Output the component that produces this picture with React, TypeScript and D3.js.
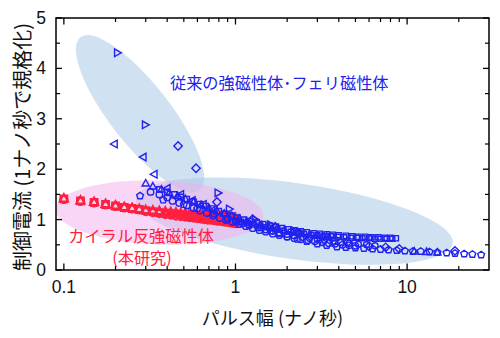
import React from 'react';
import * as d3 from 'd3';

// ---------- data ----------
const xMajorTicks = [0.1, 1, 10];
const xMajorLabels = ['0.1', '1', '10'];
const xMinorTicks = [0.2, 0.3, 0.4, 0.5, 0.6, 0.7, 0.8, 0.9, 2, 3, 4, 5, 6, 7, 8, 9, 20];
const yMajorTicks = [0, 1, 2, 3, 4, 5];
const yMinorTicks = [0.5, 1.5, 2.5, 3.5, 4.5];

// chiral antiferromagnet (this work) - red
const redX = [0.1, 0.125, 0.15, 0.175, 0.2, 0.225, 0.25, 0.275, 0.3, 0.33, 0.36, 0.39, 0.42, 0.45, 0.48, 0.51, 0.54, 0.57, 0.6, 0.63, 0.66, 0.69, 0.72, 0.75, 0.78, 0.81, 0.84, 0.87, 0.9, 0.93, 0.96, 1.0];
const redTriY = [1.42, 1.38, 1.35, 1.31, 1.28, 1.25, 1.23, 1.21, 1.19, 1.18, 1.17, 1.16, 1.15, 1.14, 1.13, 1.12, 1.12, 1.11, 1.10, 1.10, 1.09, 1.09, 1.08, 1.08, 1.07, 1.07, 1.06, 1.06, 1.05, 1.05, 1.04, 1.04];
const redSqY = [1.41, 1.37, 1.34, 1.30, 1.27, 1.24, 1.22, 1.20, 1.18, 1.16, 1.14, 1.13, 1.12, 1.11, 1.10, 1.09, 1.08, 1.07, 1.06, 1.05, 1.05, 1.04, 1.03, 1.02, 1.02, 1.01, 1.00, 0.99, 0.99, 0.98, 0.97, 0.96];
const redCircY = [1.40, 1.36, 1.33, 1.29, 1.26, 1.23, 1.21, 1.19, 1.16, 1.14, 1.12, 1.10, 1.09, 1.07, 1.06, 1.05, 1.04, 1.03, 1.02, 1.01, 1.00, 0.99, 0.99, 0.98, 0.97, 0.97, 0.96, 0.95, 0.95, 0.94, 0.93, 0.92];
const red2X = [0.405, 0.435, 0.465, 0.495, 0.525, 0.555, 0.585, 0.615, 0.645, 0.675, 0.705, 0.735, 0.765, 0.795, 0.825, 0.855, 0.885, 0.915, 0.945, 0.975];
const red2Y = [1.12, 1.11, 1.10, 1.08, 1.07, 1.06, 1.05, 1.05, 1.04, 1.03, 1.02, 1.01, 1.01, 1.00, 0.99, 0.98, 0.98, 0.97, 0.96, 0.95];

// conventional ferro / ferri magnets - blue
const blueSqX = [0.36, 0.4, 0.44, 0.48, 0.52, 0.57, 0.62, 0.67, 0.73, 0.8, 0.87, 0.95, 1.03, 1.12, 1.22, 1.33, 1.45, 1.58, 1.72, 1.87, 2.03, 2.2, 2.4, 2.6, 2.85, 3.1, 3.4, 3.7, 4.0, 4.4, 4.8, 5.2, 5.7, 6.2, 6.8, 7.4, 8.0, 8.6];
const blueSqY = [1.6, 1.55, 1.5, 1.45, 1.41, 1.36, 1.31, 1.27, 1.22, 1.17, 1.12, 1.08, 1.04, 1.0, 0.97, 0.94, 0.91, 0.88, 0.86, 0.83, 0.81, 0.79, 0.77, 0.75, 0.73, 0.72, 0.71, 0.7, 0.69, 0.68, 0.67, 0.66, 0.66, 0.65, 0.65, 0.64, 0.64, 0.63];
const blueSq2X = [1.0, 1.08, 1.17, 1.27, 1.37, 1.48, 1.6, 1.75, 1.9, 2.1, 2.3, 2.5, 2.75, 3.0, 3.3, 3.6, 3.95, 4.3, 4.7, 5.1, 5.5, 6.0, 6.5, 7.0, 7.6, 8.2];
const blueSq2Y = [0.99, 0.96, 0.93, 0.9, 0.88, 0.85, 0.83, 0.8, 0.78, 0.76, 0.74, 0.72, 0.7, 0.69, 0.68, 0.67, 0.66, 0.65, 0.64, 0.64, 0.63, 0.63, 0.62, 0.62, 0.62, 0.62];

const blueCircX = [0.32, 0.36, 0.4, 0.43, 0.47, 0.52, 0.57, 0.62, 0.68, 0.74, 0.81, 0.88, 0.96, 1.05, 1.15, 1.26, 1.38, 1.5, 1.65, 1.8, 2.0, 2.2, 2.4, 2.65, 2.9, 3.2, 3.5, 3.8, 4.2, 4.6, 5.0];
const blueCircY = [1.55, 1.5, 1.44, 1.37, 1.33, 1.28, 1.23, 1.18, 1.13, 1.08, 1.03, 0.99, 0.95, 0.91, 0.87, 0.83, 0.79, 0.76, 0.72, 0.69, 0.66, 0.63, 0.61, 0.59, 0.57, 0.55, 0.53, 0.52, 0.5, 0.49, 0.48];
const blueCirc2X = [0.9, 1.0, 1.1, 1.2, 1.35, 1.5, 1.65, 1.8, 2.0, 2.2, 2.45, 2.7, 3.0, 3.3, 3.7, 4.1, 4.6, 5.2, 5.8, 6.5];
const blueCirc2Y = [1.0, 0.96, 0.92, 0.88, 0.84, 0.8, 0.77, 0.74, 0.71, 0.68, 0.65, 0.63, 0.61, 0.59, 0.57, 0.55, 0.53, 0.51, 0.5, 0.48];

const bluePentX = [0.278, 0.379, 0.5, 0.6, 0.75, 0.9, 1.05, 1.2, 1.4, 1.6, 1.8, 2.0, 2.3, 2.6, 3.0, 3.4, 3.9, 4.4, 5.0, 5.6, 6.3, 7.0, 7.8, 8.7, 9.7, 10.8, 12, 13.5, 15, 17, 19, 21.5, 24, 27];
const bluePentY = [1.47, 1.39, 1.3, 1.22, 1.12, 1.03, 0.96, 0.9, 0.84, 0.78, 0.72, 0.66, 0.61, 0.57, 0.52, 0.49, 0.46, 0.45, 0.44, 0.43, 0.42, 0.41, 0.4, 0.39, 0.38, 0.37, 0.37, 0.36, 0.35, 0.34, 0.33, 0.32, 0.31, 0.3];

const blueTriUpX = [0.3, 0.33, 0.37, 0.41, 0.46, 0.51, 0.57, 0.63, 0.7, 0.78, 0.86, 0.95, 1.05, 1.16, 1.28, 1.42, 1.57, 1.74, 1.93, 2.15, 2.4, 2.7, 3.0, 3.4, 3.8, 11, 13, 15];
const blueTriUpY = [1.72, 1.66, 1.6, 1.53, 1.47, 1.41, 1.35, 1.29, 1.23, 1.17, 1.12, 1.07, 1.02, 0.97, 0.93, 0.89, 0.85, 0.82, 0.79, 0.76, 0.73, 0.7, 0.68, 0.66, 0.64, 0.37, 0.36, 0.35];

const blueTriLX = [0.197, 0.29, 0.336, 0.4, 0.48, 0.56, 0.65, 0.75];
const blueTriLY = [2.5, 2.24, 1.9, 1.62, 1.5, 1.38, 1.3, 1.2];

const blueTriRX = [0.205, 0.298, 0.79, 0.92, 1.3, 1.6, 2.2];
const blueTriRY = [4.31, 2.88, 1.53, 1.21, 1.0, 0.9, 0.78];

const blueDiaX = [0.463, 0.589, 0.78, 1.26, 1.7, 2.3, 3.2, 4.5, 6.0, 7.5, 9.0, 19];
const blueDiaY = [2.46, 2.02, 1.35, 1.01, 0.86, 0.75, 0.65, 0.55, 0.47, 0.45, 0.42, 0.38];

// highlight ellipses: centre (data units), radii (px), rotation (deg)
const ellipseCx = [0.278, 2.2, 0.36];
const ellipseCy = [3.1, 0.97, 1.14];
const ellipseRx = [97, 160, 104];
const ellipseRy = [30, 38, 32];
const ellipseRot = [52, 8, 2];
const ellipseFill = ['#a9c8e8', '#a9c8e8', '#f3aeeb'];
const ellipseOpacity = [0.55, 0.55, 0.5];

const BLUE = '#2222ee';
const RED = '#ff2040';

function markerPath(kind: string, s: number): string {
  switch (kind) {
    case 'tri':
      return `M0,${-s}L${s * 0.95},${s * 0.7}L${-s * 0.95},${s * 0.7}Z`;
    case 'triL':
      return `M${-s},0L${s * 0.7},${-s * 0.95}L${s * 0.7},${s * 0.95}Z`;
    case 'triR':
      return `M${s},0L${-s * 0.7},${-s * 0.95}L${-s * 0.7},${s * 0.95}Z`;
    case 'dia':
      return `M0,${-s}L${s},0L0,${s}L${-s},0Z`;
    case 'sq':
      return `M${-s},${-s}L${s},${-s}L${s},${s}L${-s},${s}Z`;
    case 'pent': {
      const pts = d3.range(5).map((k) => {
        const a = (-90 + k * 72) * Math.PI / 180;
        return [s * Math.cos(a), s * Math.sin(a)];
      });
      return 'M' + pts.map((p) => p[0].toFixed(2) + ',' + p[1].toFixed(2)).join('L') + 'Z';
    }
    default: {
      return `M${s},0A${s},${s} 0 1,1 ${-s},0A${s},${s} 0 1,1 ${s},0Z`;
    }
  }
}

export default function App() {
  const left = 56, right = 489, top = 18, bottom = 270;
  const x = d3.scaleLog().domain([0.09, 30]).range([left, right]);
  const y = d3.scaleLinear().domain([0, 5]).range([bottom, top]);
  const font = "'Liberation Sans', Arial, 'Noto Sans CJK JP', sans-serif";
  const jfont = "'Noto Sans CJK JP', 'Liberation Sans', sans-serif";

  const series = (xs: number[], ys: number[], kind: string, s: number, color: string, sw: number, key: string) => (
    <g key={key}>
      {xs.map((v, i) => (
        <path key={i} d={markerPath(kind, s)} transform={`translate(${x(v)},${y(ys[i])})`}
          fill="none" stroke={color} strokeWidth={sw} />
      ))}
    </g>
  );

  return (
    <svg width={500} height={338} style={{ position: 'absolute', left: 0, top: 0, background: '#fff' }}>
      <defs>
        <clipPath id="plotclip">
          <rect x={left} y={top} width={right - left} height={bottom - top} />
        </clipPath>
      </defs>
      <g clipPath="url(#plotclip)">
        {ellipseCx.map((cx, i) => (
          <ellipse key={i} cx={0} cy={0} rx={ellipseRx[i]} ry={ellipseRy[i]}
            transform={`translate(${x(cx)},${y(ellipseCy[i])}) rotate(${ellipseRot[i]})`}
            fill={ellipseFill[i]} fillOpacity={ellipseOpacity[i]} />
        ))}
      </g>

      {/* red series */}
      {series(redX, redSqY, 'sq', 3.4, RED, 2, 'rs')}
      {series(redX, redCircY, 'circ', 3.6, RED, 2, 'rc')}
      {series(red2X, red2Y, 'circ', 3.4, RED, 2, 'r2')}
      {series(redX, redTriY, 'tri', 4.4, RED, 2, 'rt')}

      {/* blue series */}
      {series(bluePentX, bluePentY, 'pent', 3.6, BLUE, 1.4, 'bp')}
      {series(blueCircX, blueCircY, 'circ', 3.2, BLUE, 1.4, 'bc')}
      {series(blueCirc2X, blueCirc2Y, 'circ', 3, BLUE, 1.4, 'bc2')}
      {series(blueSqX, blueSqY, 'sq', 2.6, BLUE, 1.4, 'bs')}
      {series(blueSq2X, blueSq2Y, 'sq', 2.5, BLUE, 1.4, 'bs2')}
      {series(blueTriUpX, blueTriUpY, 'tri', 3.8, BLUE, 1.4, 'bu')}
      {series(blueTriLX, blueTriLY, 'triL', 4, BLUE, 1.4, 'bl')}
      {series(blueTriRX, blueTriRY, 'triR', 4, BLUE, 1.4, 'br')}
      {series(blueDiaX, blueDiaY, 'dia', 4.2, BLUE, 1.4, 'bd')}

      {/* frame */}
      <rect x={left} y={top} width={right - left} height={bottom - top} fill="none" stroke="#000" strokeWidth={1.5} />

      {/* x ticks */}
      {xMajorTicks.map((t) => (
        <g key={'xm' + t}>
          <line x1={x(t)} x2={x(t)} y1={bottom} y2={bottom - 6.5} stroke="#000" strokeWidth={1.3} />
          <line x1={x(t)} x2={x(t)} y1={top} y2={top + 6.5} stroke="#000" strokeWidth={1.3} />
        </g>
      ))}
      {xMinorTicks.map((t) => (
        <g key={'xn' + t}>
          <line x1={x(t)} x2={x(t)} y1={bottom} y2={bottom - 4} stroke="#000" strokeWidth={1.2} />
          <line x1={x(t)} x2={x(t)} y1={top} y2={top + 4} stroke="#000" strokeWidth={1.2} />
        </g>
      ))}
      {xMajorTicks.map((t, i) => (
        <text key={'xl' + t} x={x(t)} y={287} textAnchor="middle" dominantBaseline="central"
          fontFamily={font} fontSize={17.5} fill="#111">{xMajorLabels[i]}</text>
      ))}

      {/* y ticks */}
      {yMajorTicks.map((t) => (
        <g key={'ym' + t}>
          <line x1={left} x2={left + 6} y1={y(t)} y2={y(t)} stroke="#000" strokeWidth={1.3} />
          <line x1={right} x2={right - 6} y1={y(t)} y2={y(t)} stroke="#000" strokeWidth={1.3} />
          <text x={46} y={y(t)} textAnchor="end" dominantBaseline="central"
            fontFamily={font} fontSize={17.5} fill="#111">{t}</text>
        </g>
      ))}
      {yMinorTicks.map((t) => (
        <g key={'yn' + t}>
          <line x1={left} x2={left + 4} y1={y(t)} y2={y(t)} stroke="#000" strokeWidth={1.2} />
          <line x1={right} x2={right - 4} y1={y(t)} y2={y(t)} stroke="#000" strokeWidth={1.2} />
        </g>
      ))}

      {/* axis titles */}
      <text x={(left + right) / 2} y={317} textAnchor="middle" dominantBaseline="central"
        fontFamily={jfont} fontSize={18} fill="#111">パルス幅 (ナノ秒)</text>
      <text transform={`translate(21,${147}) rotate(-90)`} textAnchor="middle" dominantBaseline="central"
        fontFamily={jfont} fontSize={20} fill="#111">制御電流 (1ナノ秒で規格化)</text>

      {/* annotations */}
      <text x={170} y={82} dominantBaseline="central" fontFamily={jfont} fontSize={16.2} fill={BLUE}>従来の強磁性体･フェリ磁性体</text>
      <text x={141} y={235} textAnchor="middle" dominantBaseline="central" fontFamily={jfont} fontSize={16.2} fill={RED}>カイラル反強磁性体</text>
      <text x={142} y={257} textAnchor="middle" dominantBaseline="central" fontFamily={jfont} fontSize={16.2} fill={RED}>(本研究)</text>
    </svg>
  );
}
